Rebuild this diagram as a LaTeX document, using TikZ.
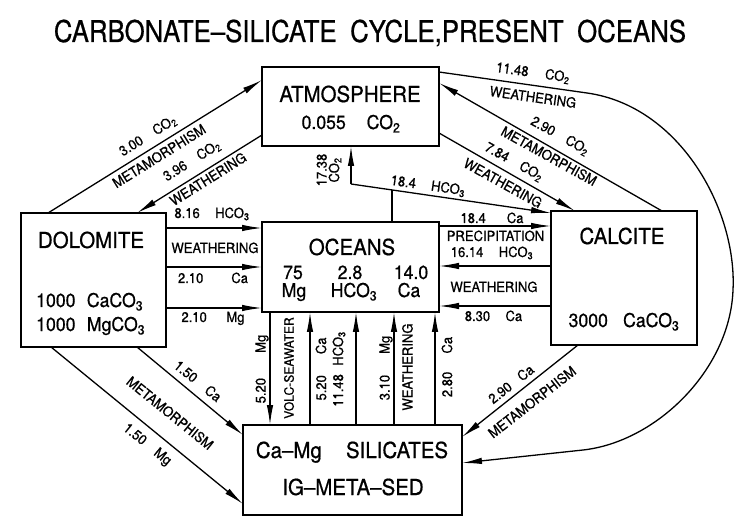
\documentclass[tikz,border=0pt]{standalone}
\usepackage{fontspec}
\setmainfont[FakeStretch=0.93,FakeBold=0.7]{TeX Gyre Heros}
\newfontfamily\titlefont[FakeStretch=0.86,FakeBold=0.7]{TeX Gyre Heros}
\usetikzlibrary{arrows.meta,calc}
\newcommand\sbs[1]{\textsubscript{#1}}
\newcommand\gp{\hspace{1em}}
\begin{document}
\begin{tikzpicture}[x=1pt,y=-1pt,
  box/.style={draw,line width=2.2pt,inner sep=0pt,outer sep=0pt},
  conn/.style={line width=1.3pt,-{Latex[length=20pt,width=6.5pt]}},
  plain/.style={line width=1.3pt},
  big/.style={font=\fontsize{22}{24}\selectfont,inner sep=0pt,anchor=base},
  mid/.style={font=\fontsize{19}{21}\selectfont,inner sep=0pt,anchor=base},
  lbl/.style={font=\fontsize{14}{15}\selectfont,inner sep=0pt},
  lblb/.style={lbl,anchor=base},
]
\useasboundingbox (0,0) rectangle (741,526);

% title
\node[font=\titlefont\fontsize{30}{32}\selectfont,inner sep=0pt,anchor=base] (title) at (370,42)
  {CARBONATE\textendash SILICATE\hspace{0.45em}CYCLE,PRESENT\hspace{0.45em}OCEANS};

% boxes
\node[box,minimum width=177pt,minimum height=79pt] (atm) at (350.5,106.5) {};
\node[box,minimum width=145pt,minimum height=134pt] (dol) at (93.5,280) {};
\node[box,minimum width=177pt,minimum height=90pt] (oce) at (350.5,267) {};
\node[box,minimum width=146pt,minimum height=134pt] (cal) at (624,278) {};
\node[box,minimum width=219pt,minimum height=90pt] (sil) at (352.5,470) {};

% box texts
\node[big] (atmT) at (350,102) {ATMOSPHERE};
\node[mid] (atmV) at (351,129) {0.055\hspace{1.1em}CO\sbs{2}};
\node[big] (dolT) at (91,248) {DOLOMITE};
\node[mid,anchor=base west] (dolV1) at (36,307) {1000\hspace{0.6em}CaCO\sbs{3}};
\node[mid,anchor=base west] (dolV2) at (36,331) {1000\hspace{0.6em}MgCO\sbs{3}};
\node[big] (oceT) at (352,255) {OCEANS};
\node[mid] (o1) at (293,279) {75};
\node[mid] (o2) at (350,279) {2.8};
\node[mid] (o3) at (411,279) {14.0};
\node[mid] (o4) at (294,297) {Mg};
\node[mid] (o5) at (354,297) {HCO\sbs{3}};
\node[mid] (o6) at (409,297) {Ca};
\node[big] (calT) at (622,244) {CALCITE};
\node[mid] (calV) at (624,327) {3000\hspace{0.8em}CaCO\sbs{3}};
\node[big] (silT) at (352,458) {Ca\textendash Mg\hspace{1.1em}SILICATES};
\node[big] (silT2) at (353,495) {IG\textendash META\textendash SED};

% atmosphere <-> dolomite
\draw[conn] ($(dol.north west)+(27,0)$) -- ($(atm.north west)+(0,13)$);
\draw[conn] ($(atm.south west)+(0,-11)$) -- ($(dol.north west)+(116,0)$);
\node[lbl,rotate=32] (l300) at (148,136) {3.00\gp CO\sbs{2}};
\node[lbl,rotate=32] (lm1) at (159,156) {METAMORPHISM};
\node[lbl,rotate=32] (l396) at (192,161) {3.96\gp CO\sbs{2}};
\node[lbl,rotate=32] (lw3) at (208,179) {WEATHERING};

% atmosphere -> silicates (long curve)
\draw[conn] ($(atm.north east)+(0,5)$) -- (587,93)
  .. controls (680,106) and (737,210) .. (733,290)
  .. controls (730,370) and (656,442) .. (583,450)
  -- ($(sil.north east)+(0,38)$);
\node[lbl,rotate=-8] (l1148) at (533,73) {11.48\hspace{1.2em}CO\sbs{2}};
\node[lbl,rotate=-8] (lw4) at (533,97) {WEATHERING};

% atmosphere <-> calcite
\draw[conn] ($(cal.north west)+(111,0)$) -- ($(atm.north east)+(0,16)$);
\draw[conn] ($(atm.south east)+(0,-13)$) -- ($(cal.north west)+(24,0)$);
\node[lbl,rotate=-29] (l290) at (560,136) {2.90\gp CO\sbs{2}};
\node[lbl,rotate=-29] (lm2) at (549,156) {METAMORPHISM};
\node[lbl,rotate=-29] (l784) at (514,162) {7.84\gp CO\sbs{2}};
\node[lbl,rotate=-29] (lw5) at (503,183) {WEATHERING};

% oceans -> atmosphere / calcite (branch)
\coordinate (jn) at (351,184);
\coordinate (jo) at ($(oce.north west)+(130,0)$);
\coordinate (jm) at (392,190);
\draw[plain] (jo) -- (jm);
\draw[conn] (jn) -- (jn |- atm.south);
\draw[conn] (jn) -- ($(cal.north west)+(0,2)$);
\node[lbl,rotate=90,align=center,font=\fontsize{14}{12.5}\selectfont] (l1738) at (329,170) {17.38\\CO\sbs{2}};
\node[lbl,rotate=-8] (l184h) at (428,186) {18.4\hspace{1.1em}HCO\sbs{3}};

% dolomite -> oceans
\draw[conn] ($(dol.north east)+(0,15)$) -- ($(oce.north west)+(0,6)$);
\draw[conn] ($(dol.north east)+(0,54)$) -- ($(oce.north west)+(0,45)$);
\draw[conn] ($(dol.north east)+(0,95)$) -- ($(oce.north west)+(0,86)$);
\node[lblb] (l816) at (212,218) {8.16\hspace{1.1em}HCO\sbs{3}};
\node[lblb] (lw1) at (215,253) {WEATHERING};
\node[lblb] (l210c) at (213,283) {2.10\hspace{2em}Ca};
\node[lblb] (l210m) at (213,322) {2.10\hspace{1.4em}Mg};

% oceans <-> calcite
\draw[conn] ($(oce.north east)+(0,4)$) -- ($(cal.north west)+(0,15)$);
\draw[conn] ($(cal.north west)+(0,55)$) -- ($(oce.north east)+(0,44)$);
\draw[conn] ($(cal.north west)+(0,95)$) -- ($(oce.north east)+(0,84)$);
\node[lblb] (l184c) at (492,223) {18.4\hspace{1.5em}Ca};
\node[lblb] (lprec) at (495.5,241) {PRECIPITATION};
\node[lblb] (l1614) at (492,257) {16.14\hspace{1.1em}HCO\sbs{3}};
\node[lblb] (lw2) at (494,292) {WEATHERING};
\node[lblb] (l830) at (493.5,321) {8.30\hspace{1.1em}Ca};

% oceans <-> silicates
\draw[conn] ($(oce.south west)+(8,0)$) -- ($(sil.north west)+(27,0)$);
\draw[conn] ($(sil.north west)+(67,0)$) -- ($(oce.south west)+(48,0)$);
\draw[conn] ($(sil.north west)+(113,0)$) -- ($(oce.south west)+(94,0)$);
\draw[conn] ($(sil.north west)+(151,0)$) -- ($(oce.south west)+(132,0)$);
\draw[conn] ($(sil.north west)+(192,0)$) -- ($(oce.south west)+(173,0)$);
\node[lbl,rotate=90] (l520m) at (262,369) {5.20\hspace{1.8em}Mg};
\node[lbl,rotate=90,font=\fontsize{13}{14}\selectfont] (lvolc) at (289,368) {VOLC-SEAWATER};
\node[lbl,rotate=90] (l520c) at (321,369) {5.20\hspace{1.5em}Ca};
\node[lbl,rotate=90] (l1148h) at (339,369) {11.48\hspace{0.6em}HCO\sbs{3}};
\node[lbl,rotate=90] (l310) at (386,368) {3.10\hspace{1.5em}Mg};
\node[lbl,rotate=90] (lw6) at (407.5,367) {WEATHERING};
\node[lbl,rotate=90] (l280) at (447,367) {2.80\hspace{1.3em}Ca};

% dolomite -> silicates
\draw[conn] ($(dol.south west)+(116,0)$) -- ($(sil.north west)+(0,10)$);
\draw[conn] ($(dol.south west)+(30,0)$) -- ($(sil.north west)+(0,79)$);
\node[lbl,rotate=-39] (l150c) at (198,381) {1.50\hspace{1em}Ca};
\node[lbl,rotate=-39] (lm3) at (170,413) {METAMORPHISM};
\node[lbl,rotate=-39] (l150m) at (147,445) {1.50\hspace{1em}Mg};

% calcite -> silicates
\draw[conn] ($(cal.south west)+(27,0)$) -- ($(sil.north east)+(0,12)$);
\node[lbl,rotate=38] (l290c) at (511,384) {2.90\hspace{0.8em}Ca};
\node[lbl,rotate=38] (lm4) at (532,402) {METAMORPHISM};
\end{tikzpicture}
\end{document}
